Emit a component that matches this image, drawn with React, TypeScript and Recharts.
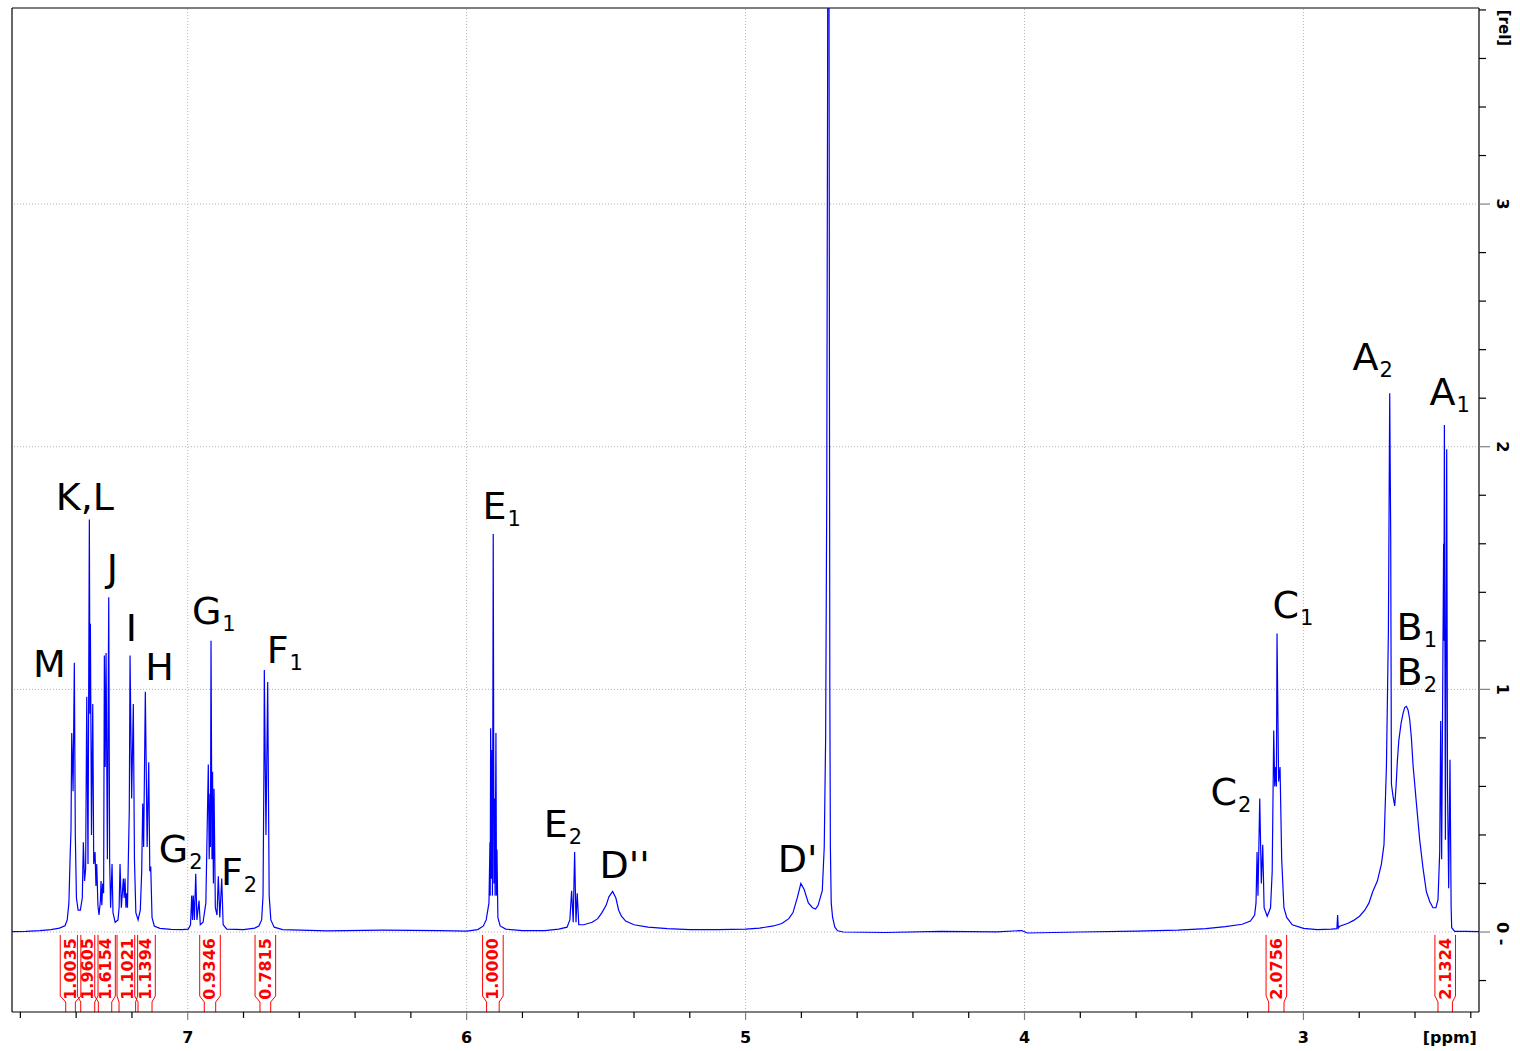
import { LineChart, Line, XAxis, YAxis, ReferenceLine, ReferenceArea, ReferenceDot } from 'recharts';

const FONT = "'DejaVu Sans', sans-serif";

// spectrum as [ppm, relative intensity]
const AROMATIC: [number, number][] = [
  [7.630, 0.002], [7.58, 0.003], [7.53, 0.006], [7.49, 0.010], [7.46, 0.016], [7.44, 0.026],
  [7.432, 0.05], [7.426, 0.12], [7.4219, 0.30], [7.4185, 0.42], [7.4158, 0.82], [7.4110, 0.58],
  [7.4065, 1.11], [7.4030, 0.40], [7.3990, 0.14], [7.3930, 0.09], [7.3850, 0.09], [7.3780, 0.14],
  [7.3742, 0.37], [7.3700, 0.21], [7.3660, 0.26], [7.3620, 0.97], [7.3575, 0.28], [7.3527, 1.70],
  [7.3505, 0.90], [7.3490, 1.27], [7.3450, 0.40], [7.3405, 0.94], [7.3370, 0.28], [7.3323, 0.33],
  [7.3290, 0.19], [7.3262, 0.28], [7.3220, 0.11], [7.3180, 0.07], [7.3130, 0.13], [7.3108, 0.21],
  [7.3080, 0.11], [7.3047, 0.20], [7.3015, 0.16], [7.2989, 1.14], [7.2960, 0.68], [7.2928, 1.15],
  [7.2880, 0.30], [7.2832, 1.38], [7.2800, 0.30], [7.2765, 0.10], [7.2713, 0.28], [7.2680, 0.08],
  [7.2600, 0.04], [7.2500, 0.05], [7.2460, 0.10], [7.2427, 0.28], [7.2380, 0.10], [7.2308, 0.22],
  [7.2280, 0.14], [7.2247, 0.22], [7.2215, 0.10], [7.2186, 0.16], [7.2160, 0.10], [7.2129, 0.30],
  [7.2095, 0.50], [7.2068, 1.14], [7.2010, 0.55], [7.1950, 0.94], [7.1910, 0.30], [7.1860, 0.08],
  [7.1780, 0.05], [7.1700, 0.09], [7.1650, 0.25], [7.1613, 0.53], [7.1580, 0.35], [7.1520, 0.99],
  [7.1455, 0.35], [7.1398, 0.70], [7.1360, 0.25], [7.1326, 0.27], [7.1280, 0.06], [7.1200, 0.025],
  [7.1000, 0.015], [7.0600, 0.011], [7.0200, 0.010], [6.9980, 0.012], [6.9900, 0.03], [6.9857, 0.15],
  [6.9830, 0.05], [6.9800, 0.15], [6.9760, 0.05], [6.9713, 0.24], [6.9670, 0.05], [6.9595, 0.13],
  [6.9550, 0.03], [6.9450, 0.04], [6.9350, 0.12], [6.9262, 0.69], [6.9230, 0.30], [6.9200, 0.57],
  [6.9185, 0.35], [6.9165, 1.20], [6.9130, 0.30], [6.9110, 0.66], [6.9080, 0.20], [6.9057, 0.59],
  [6.9010, 0.10], [6.8950, 0.07], [6.8903, 0.23], [6.8850, 0.06], [6.8781, 0.22], [6.8730, 0.03],
  [6.8600, 0.012], [6.8000, 0.010], [6.7600, 0.016], [6.7450, 0.025], [6.7350, 0.05], [6.7300, 0.15],
  [6.7265, 0.72], [6.7254, 1.08], [6.7195, 0.40], [6.7133, 1.03], [6.7080, 0.15], [6.7020, 0.05],
  [6.6900, 0.02], [6.6600, 0.010],
];

const VINYL: [number, number][] = [
  [6.5000, 0.005], [6.3000, 0.008], [6.1000, 0.006], [6.0000, 0.004], [5.9600, 0.010], [5.9400, 0.025],
  [5.9300, 0.05], [5.9200, 0.12], [5.9165, 0.37], [5.9155, 0.15], [5.9140, 0.84], [5.9110, 0.22],
  [5.9090, 0.75], [5.9075, 0.15], [5.9047, 1.64], [5.9020, 0.20], [5.9000, 0.55], [5.8980, 0.15],
  [5.8950, 0.82], [5.8930, 0.15], [5.8914, 0.34], [5.8880, 0.06], [5.8800, 0.025], [5.8600, 0.012],
  [5.8000, 0.006], [5.7200, 0.006], [5.6700, 0.012], [5.6400, 0.02], [5.6300, 0.05], [5.6237, 0.17],
  [5.6180, 0.04], [5.6129, 0.33], [5.6080, 0.04], [5.6036, 0.16], [5.5980, 0.03], [5.5800, 0.03],
  [5.5500, 0.04], [5.5300, 0.055], [5.5150, 0.08], [5.5000, 0.11], [5.4900, 0.145], [5.4767, 0.167],
  [5.4650, 0.14], [5.4550, 0.09], [5.4450, 0.065], [5.4300, 0.045], [5.4000, 0.03], [5.3500, 0.02],
  [5.2800, 0.014], [5.2000, 0.010],
];

const WATER: [number, number][] = [
  [5.1000, 0.010], [5.0000, 0.012], [4.9500, 0.016], [4.9000, 0.025], [4.8700, 0.035], [4.8450, 0.055],
  [4.8300, 0.08], [4.8150, 0.14], [4.8018, 0.20], [4.7900, 0.175], [4.7750, 0.12], [4.7600, 0.10],
  [4.7491, 0.095], [4.7400, 0.11], [4.7250, 0.17], [4.7180, 0.35], [4.7130, 0.80], [4.7090, 1.80],
  [4.7060, 3.50], [4.7030, 6.00], [4.7000, 3.00], [4.6980, 1.00], [4.6960, 0.35], [4.6930, 0.12],
  [4.6880, 0.06], [4.6800, 0.02], [4.6700, 0.005], [4.6500, 0.000],
];

const ALIPHATIC: [number, number][] = [
  [4.5000, -0.002], [4.3000, 0.003], [4.1000, 0.001], [4.0100, 0.006], [3.9900, -0.004], [3.8000, 0.000],
  [3.6000, 0.004], [3.4500, 0.008], [3.3500, 0.014], [3.2800, 0.022], [3.2200, 0.032], [3.1900, 0.045],
  [3.1750, 0.07], [3.1700, 0.12], [3.1663, 0.33], [3.1630, 0.15], [3.1567, 0.55], [3.1510, 0.20],
  [3.1459, 0.36], [3.1410, 0.10], [3.1300, 0.065], [3.1180, 0.10], [3.1120, 0.25], [3.1065, 0.83],
  [3.1030, 0.60], [3.0995, 0.68], [3.0970, 0.60], [3.0947, 1.23], [3.0890, 0.62], [3.0839, 0.68],
  [3.0780, 0.30], [3.0700, 0.10], [3.0600, 0.06], [3.0400, 0.03], [3.0000, 0.015], [2.9500, 0.010],
  [2.9000, 0.012], [2.8800, 0.014], [2.8775, 0.07], [2.8750, 0.016], [2.8699, 0.024], [2.8400, 0.036],
  [2.8200, 0.048], [2.7982, 0.066], [2.7800, 0.09], [2.7650, 0.12], [2.7517, 0.166], [2.7350, 0.21],
  [2.7205, 0.28], [2.7112, 0.36], [2.7025, 0.68], [2.6954, 1.24], [2.6907, 2.22], [2.6871, 1.62],
  [2.6846, 0.61], [2.6789, 0.56], [2.6728, 0.52], [2.6680, 0.60], [2.6630, 0.71], [2.6580, 0.79],
  [2.6500, 0.86], [2.6431, 0.90], [2.6370, 0.925], [2.6309, 0.93], [2.6250, 0.915], [2.6190, 0.876],
  [2.6130, 0.80], [2.6072, 0.69], [2.5950, 0.53], [2.5832, 0.38], [2.5710, 0.26], [2.5592, 0.166],
  [2.5470, 0.125], [2.5355, 0.10], [2.5250, 0.10], [2.5176, 0.133], [2.5115, 0.33], [2.5079, 0.87],
  [2.5045, 0.30], [2.4975, 1.60], [2.4965, 1.20], [2.4947, 2.09], [2.4911, 0.38], [2.4864, 1.99],
  [2.4835, 0.60], [2.4793, 0.18], [2.4746, 0.71], [2.4705, 0.10], [2.4685, 0.018], [2.4577, 0.003],
  [2.4200, 0.003], [2.3706, 0.002],
];

const X_TICKS = [7.6, 7.4, 7.2, 7, 6.8, 6.6, 6.4, 6.2, 6, 5.8, 5.6, 5.4, 5.2, 5, 4.8, 4.6, 4.4, 4.2, 4, 3.8, 3.6, 3.4, 3.2, 3, 2.8, 2.6, 2.4];
const Y_TICKS = [-0.2, 0, 0.2, 0.4, 0.6, 0.8, 1, 1.2, 1.4, 1.6, 1.8, 2, 2.2, 2.4, 2.6, 2.8, 3, 3.2, 3.4, 3.6, 3.8];
const GRID_PPM = [7, 6, 5, 4, 3];
const GRID_REL = [0, 1, 2, 3];

// integrals: value and ppm limits
const INTEGRAL_VALUES = ['1.0035', '1.9605', '1.6154', '1.1021', '1.1394', '0.9346', '0.7815', '1.0000', '2.0756', '2.1324'];
const INTEGRAL_FROM = [7.4373, 7.3836, 7.3205, 7.2463, 7.1782, 6.9406, 6.7409, 5.9285, 3.1245, 2.5176];
const INTEGRAL_TO = [7.4029, 7.3334, 7.2724, 7.1868, 7.1280, 6.8997, 6.7025, 5.8834, 3.0696, 2.4659];

// peak assignments (text start point in ppm / rel)
const PEAK_TEXT = ['M', 'K,L', 'J', 'I', 'H', 'G', 'G', 'F', 'F', 'E', 'E', "D''", "D'", 'C', 'C', 'A', 'A', 'B', 'B'];
const PEAK_SUB = ['', '', '', '', '', '1', '2', '1', '2', '1', '2', '', '', '2', '1', '2', '1', '1', '2'];
const PEAK_PPM = [7.555, 7.473, 7.290, 7.222, 7.152, 6.985, 7.104, 6.717, 6.881, 5.943, 5.724, 5.524, 4.885, 3.333, 3.111, 2.824, 2.548, 2.666, 2.666];
const PEAK_REL = [1.052, 1.740, 1.447, 1.200, 1.040, 1.270, 0.290, 1.110, 0.195, 1.703, 0.393, 0.224, 0.249, 0.525, 1.295, 2.317, 2.173, 1.204, 1.019];

const spectrum = [...AROMATIC, ...VINYL, ...WATER, ...ALIPHATIC].map(([ppm, rel]) => ({ ppm, rel }));

const isMajor = (v: number) => Math.abs(v - Math.round(v)) < 1e-6;

const XTick = ({ x, y, payload }: any) => {
    const v = payload.value;
    const major = isMajor(v);
    const last = Math.abs(v - X_TICKS[X_TICKS.length - 1]) < 1e-6;
    return (
        <g>
            <line x1={x} x2={x} y1={y} y2={y + (major ? 8 : 6)} stroke={major ? '#808080' : '#000'} strokeWidth={1.2} />
            {major && (
                <text x={x} y={y + 25} textAnchor="middle" dominantBaseline="central" fontFamily={FONT} fontWeight="bold" fontSize={16} fill="#000">
                    {v}
                </text>
            )}
            {last && (
                <text x={x - 21} y={y + 25} textAnchor="middle" dominantBaseline="central" fontFamily={FONT} fontWeight="bold" fontSize={16} fill="#000">
                    [ppm]
                </text>
            )}
        </g>
    );
};

const YTick = ({ x, y, payload }: any) => {
    const v = payload.value;
    const major = isMajor(v);
    const top = Math.abs(v - Y_TICKS[Y_TICKS.length - 1]) < 1e-6;
    const tx = x + 23;
    return (
        <g>
            <line x1={x} x2={x + (major ? 11 : 7)} y1={y} y2={y} stroke={major ? '#808080' : '#000'} strokeWidth={1.2} />
            {major && v === 0 && (
                <text x={tx} y={y - 10} transform={`rotate(90 ${tx} ${y - 10})`} textAnchor="start" dominantBaseline="central" fontFamily={FONT} fontWeight="bold" fontSize={16} fill="#000">
                    0 -
                </text>
            )}
            {major && v !== 0 && (
                <text x={tx} y={y} transform={`rotate(90 ${tx} ${y})`} textAnchor="middle" dominantBaseline="central" fontFamily={FONT} fontWeight="bold" fontSize={16} fill="#000">
                    {v}
                </text>
            )}
            {top && (
                <text x={tx + 2} y={y + 18} transform={`rotate(90 ${tx + 2} ${y + 18})`} textAnchor="middle" dominantBaseline="central" fontFamily={FONT} fontWeight="bold" fontSize={15} fill="#000">
                    [rel]
                </text>
            )}
        </g>
    );
};

const IntegralMark = ({ x, y, width, height, value }: any) => {
    const bottom = y + height;
    const cx = x + width / 2;
    const half = Math.max(width / 2, 10.3);
    const l = cx - half;
    const r = cx + half;
    const d = `M${x},${bottom} L${x},${bottom - 10} L${l},${bottom - 16} L${l},${y} ` +
        `M${x + width},${bottom} L${x + width},${bottom - 10} L${r},${bottom - 16} L${r},${y}`;
    const ty = y + 34;
    return (
        <g>
            <path d={d} fill="none" stroke="#ff0000" strokeWidth={1} />
            <text x={cx} y={ty} transform={`rotate(-90 ${cx} ${ty})`} textAnchor="middle" dominantBaseline="central" fontFamily={FONT} fontWeight="bold" fontSize={16} fill="#ff0000">
                {value}
            </text>
        </g>
    );
};

const PeakLabel = ({ cx, cy, text, sub }: any) => (
    <text x={cx} y={cy} fontFamily={FONT} fontSize={38} fill="#000">
        {text}
        {sub ? <tspan dx={1} dy={7} fontSize={21}>{sub}</tspan> : null}
    </text>
);

const NmrSpectrum = () => (
    <LineChart width={1520} height={1051} data={spectrum} margin={{ top: 8, right: 0, bottom: 0, left: 12 }}>
        {GRID_PPM.map(v => (
            <ReferenceLine key={`gx${v}`} x={v} stroke="#b4b4b4" strokeDasharray="1 2" />
        ))}
        {GRID_REL.map(v => (
            <ReferenceLine key={`gy${v}`} y={v} stroke="#b4b4b4" strokeDasharray="1 2" />
        ))}
        <ReferenceLine x={7.63} stroke="#000" strokeWidth={1.2} ifOverflow="visible" />
        <ReferenceLine y={3.808} stroke="#000" strokeWidth={1.2} ifOverflow="visible" />
        <XAxis
            dataKey="ppm"
            type="number"
            domain={[2.3706, 7.63]}
            reversed
            allowDataOverflow
            ticks={X_TICKS}
            interval={0}
            height={39}
            tickSize={0}
            tickMargin={0}
            tickLine={false}
            axisLine={{ stroke: '#000', strokeWidth: 1.2 }}
            tick={XTick}
        />
        <YAxis
            type="number"
            orientation="right"
            domain={[-0.3296, 3.808]}
            allowDataOverflow
            ticks={Y_TICKS}
            interval={0}
            width={41}
            tickSize={0}
            tickMargin={0}
            tickLine={false}
            axisLine={{ stroke: '#000', strokeWidth: 1.2 }}
            tick={YTick}
        />
        {INTEGRAL_VALUES.map((val, i) => (
            <ReferenceArea
                key={`int${i}`}
                x1={INTEGRAL_FROM[i]}
                x2={INTEGRAL_TO[i]}
                y1={-0.3296}
                y2={-0.012}
                ifOverflow="visible"
                shape={(p: any) => <IntegralMark {...p} value={val} />}
            />
        ))}
        <Line
            type="linear"
            dataKey="rel"
            stroke="#0000ff"
            strokeWidth={1.2}
            dot={false}
            activeDot={false}
            isAnimationActive={false}
        />
        {PEAK_TEXT.map((t, i) => (
            <ReferenceDot
                key={`pk${i}`}
                x={PEAK_PPM[i]}
                y={PEAK_REL[i]}
                r={0}
                ifOverflow="visible"
                shape={(p: any) => <PeakLabel cx={p.cx} cy={p.cy} text={t} sub={PEAK_SUB[i]} />}
            />
        ))}
    </LineChart>
);

export default function App() {
    return (
        <div style={{ width: 1520, height: 1051, background: '#fff' }}>
            <style>{'body{margin:0;overflow:hidden;}'}</style>
            <NmrSpectrum />
        </div>
    );
}
